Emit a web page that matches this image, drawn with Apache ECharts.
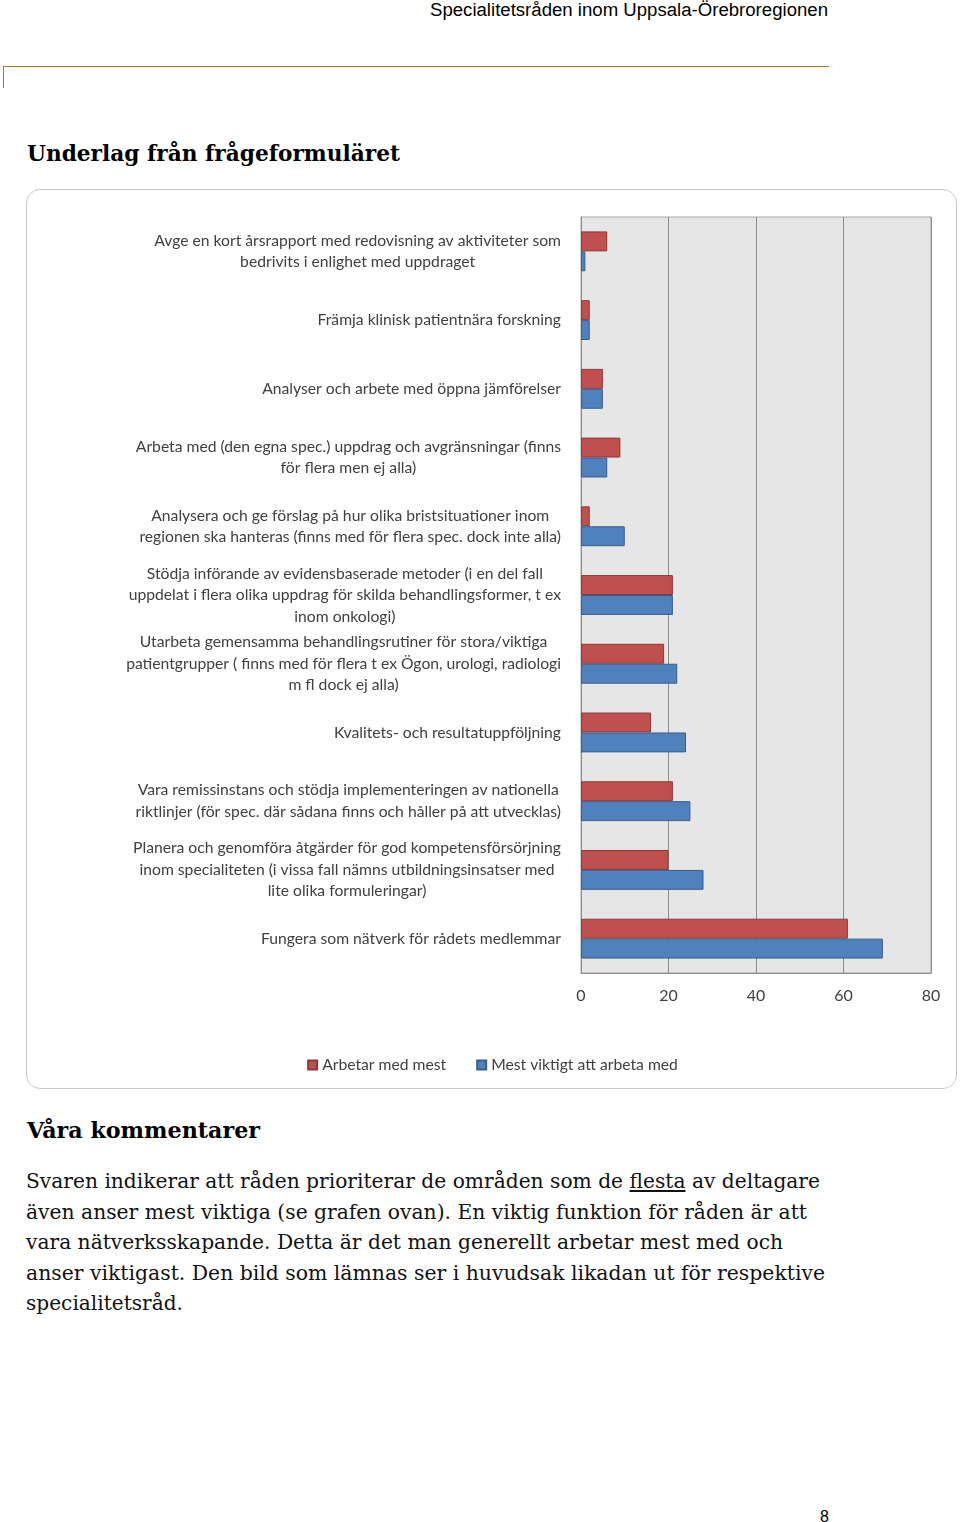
<!DOCTYPE html>
<html>
<head>
<meta charset="utf-8">
<script src="https://cdn.jsdelivr.net/npm/echarts@6/dist/echarts.min.js"></script>
<style>
  html, body { margin: 0; padding: 0; background: #fff; }
  body { width: 960px; height: 1522px; position: relative; overflow: hidden; }
  .hdr { position: absolute; left: 430px; top: 0px; font-family: "Liberation Sans", Arial, sans-serif; font-size: 18px; color: #000; white-space: nowrap; transform-origin: left top; }
  .rule { position: absolute; left: 3px; top: 66px; width: 826px; height: 0; border-top: 1.5px solid #b8722c; }
  .rulev { position: absolute; left: 3px; top: 66px; width: 0; height: 22px; border-left: 1.5px solid #b8722c; }
  .h2 { position: absolute; left: 27px; font-family: "DejaVu Serif", Georgia, serif; font-weight: bold; font-size: 22px; color: #000; white-space: nowrap; transform-origin: left top; }
  .box { position: absolute; left: 26px; top: 189px; width: 931px; height: 900px; border: 1px solid #c9c9c9; border-radius: 14px; box-sizing: border-box; overflow: hidden; }
  #chart { position: absolute; left: 0; top: 0; width: 931px; height: 900px; }
  .para { position: absolute; left: 26px; top: 1166px; font-family: "DejaVu Serif", Georgia, serif; font-size: 21px; color: #111; }
  .para div { height: 30.5px; line-height: 30.5px; white-space: nowrap; transform-origin: left center; }
  .pn { position: absolute; left: 820px; top: 1508px; font-family: "Liberation Sans", Arial, sans-serif; font-size: 16px; }
</style>
</head>
<body>
<div class="hdr" id="hdr">Specialitetsråden inom Uppsala-Örebroregionen</div>
<div class="rule"></div><div class="rulev"></div>
<div class="h2" id="h1" style="top:140px">Underlag från frågeformuläret</div>
<div class="box"><div id="chart"></div></div>
<div class="h2" id="h3" style="top:1117px">Våra kommentarer</div>
<div class="para" id="para">
  <div data-w="794">Svaren indikerar att råden prioriterar de områden som de <u>flesta</u> av deltagare</div>
  <div data-w="781">även anser mest viktiga (se grafen ovan). En viktig funktion för råden är att</div>
  <div data-w="757">vara nätverksskapande. Detta är det man generellt arbetar mest med och</div>
  <div data-w="799">anser viktigast. Den bild som lämnas ser i huvudsak likadan ut för respektive</div>
  <div data-w="157">specialitetsråd.</div>
</div>
<div class="pn">8</div>
<script>
// ---- data ----
var categories = [
  "Avge en kort årsrapport med redovisning av aktiviteter som\nbedrivits i enlighet med uppdraget",
  "Främja klinisk patientnära forskning",
  "Analyser och arbete med öppna jämförelser",
  "Arbeta med (den egna spec.) uppdrag och avgränsningar (finns\nför flera men ej alla)",
  "Analysera och ge förslag på hur olika bristsituationer inom\nregionen ska hanteras (finns med för flera spec. dock inte alla)",
  "Stödja införande av evidensbaserade metoder (i en del fall\nuppdelat i flera olika uppdrag för skilda behandlingsformer, t ex\ninom onkologi)",
  "Utarbeta gemensamma behandlingsrutiner för stora/viktiga\npatientgrupper ( finns med för flera t ex Ögon, urologi, radiologi\nm fl dock ej alla)",
  "Kvalitets- och resultatuppföljning",
  "Vara remissinstans och stödja implementeringen av nationella\nriktlinjer (för spec. där sådana finns och håller på att utvecklas)",
  "Planera och genomföra åtgärder för god kompetensförsörjning\ninom specialiteten (i vissa fall nämns utbildningsinsatser med\nlite olika formuleringar)",
  "Fungera som nätverk för rådets medlemmar"
];
var seriesNames = ["Arbetar med mest", "Mest viktigt att arbeta med"];
var arbetarMedMest = [6, 2, 5, 9, 2, 21, 19, 16, 21, 20, 61];
var mestViktigt    = [1, 2, 5, 6, 10, 21, 22, 24, 25, 28, 69];
var xTicks = { min: 0, max: 80, interval: 20 };

// ---- text fitting (layout only) ----
function fit(el, w) {
  var r = el.getBoundingClientRect().width;
  if (r > 0) el.style.transform = 'scaleX(' + (w / r) + ')';
}
fit(document.getElementById('hdr'), 398);
fit(document.getElementById('h1'), 373);
fit(document.getElementById('h3'), 233);
Array.prototype.forEach.call(document.querySelectorAll('#para div'), function (d) {
  var s = document.createElement('span'); s.innerHTML = d.innerHTML; d.innerHTML = ''; d.appendChild(s);
  s.style.display = 'inline-block'; s.style.transformOrigin = 'left center';
  var r = s.getBoundingClientRect().width;
  s.style.transform = 'scaleX(' + (parseFloat(d.getAttribute('data-w')) / r) + ')';
});

var chart = echarts.init(document.getElementById('chart'), null, { renderer: 'canvas' });
var labelFont = 'Lato, "Open Sans", sans-serif';
var fs = 15.7;
chart.setOption({
  animation: false,
  grid: { left: 554, top: 27, width: 350, height: 756, show: true, backgroundColor: '#e6e6e6', borderColor: '#a6a6a6', borderWidth: 1, containLabel: false },
  legend: {
    data: seriesNames, left: 'center', top: 862, icon: 'rect', itemWidth: 9, itemHeight: 9, itemGap: 30,
    textStyle: { fontFamily: labelFont, fontSize: fs, color: '#404040' }
  },
  xAxis: {
    type: 'value', min: xTicks.min, max: xTicks.max, interval: xTicks.interval,
    axisLine: { show: true, lineStyle: { color: '#8c8c8c' } },
    axisTick: { show: false },
    splitLine: { show: true, lineStyle: { color: '#8c8c8c', width: 1 } },
    axisLabel: { fontFamily: labelFont, fontSize: 16, color: '#404040', margin: 15 }
  },
  yAxis: {
    type: 'category', data: categories, inverse: true,
    axisLine: { show: true, lineStyle: { color: '#8c8c8c' } },
    axisTick: { show: false },
    axisLabel: {
      margin: 20, fontFamily: labelFont, fontSize: fs, color: '#404040', lineHeight: 21.5,
      formatter: function (v) { return v.split('\n').map(function (l) { return '{c|' + l + '}'; }).join('\n'); },
      rich: { c: { align: 'center', fontFamily: labelFont, fontSize: fs, color: '#404040', lineHeight: 21.5 } }
    }
  },
  series: [
    { name: seriesNames[0], type: 'bar', data: arbetarMedMest, barGap: '0%', barCategoryGap: '42%',
      itemStyle: { color: '#c0504d', borderColor: '#8c3836', borderWidth: 1 } },
    { name: seriesNames[1], type: 'bar', data: mestViktigt, barGap: '0%', barCategoryGap: '42%',
      itemStyle: { color: '#4f81bd', borderColor: '#385d8a', borderWidth: 1 } }
  ]
});
</script>
</body>
</html>
